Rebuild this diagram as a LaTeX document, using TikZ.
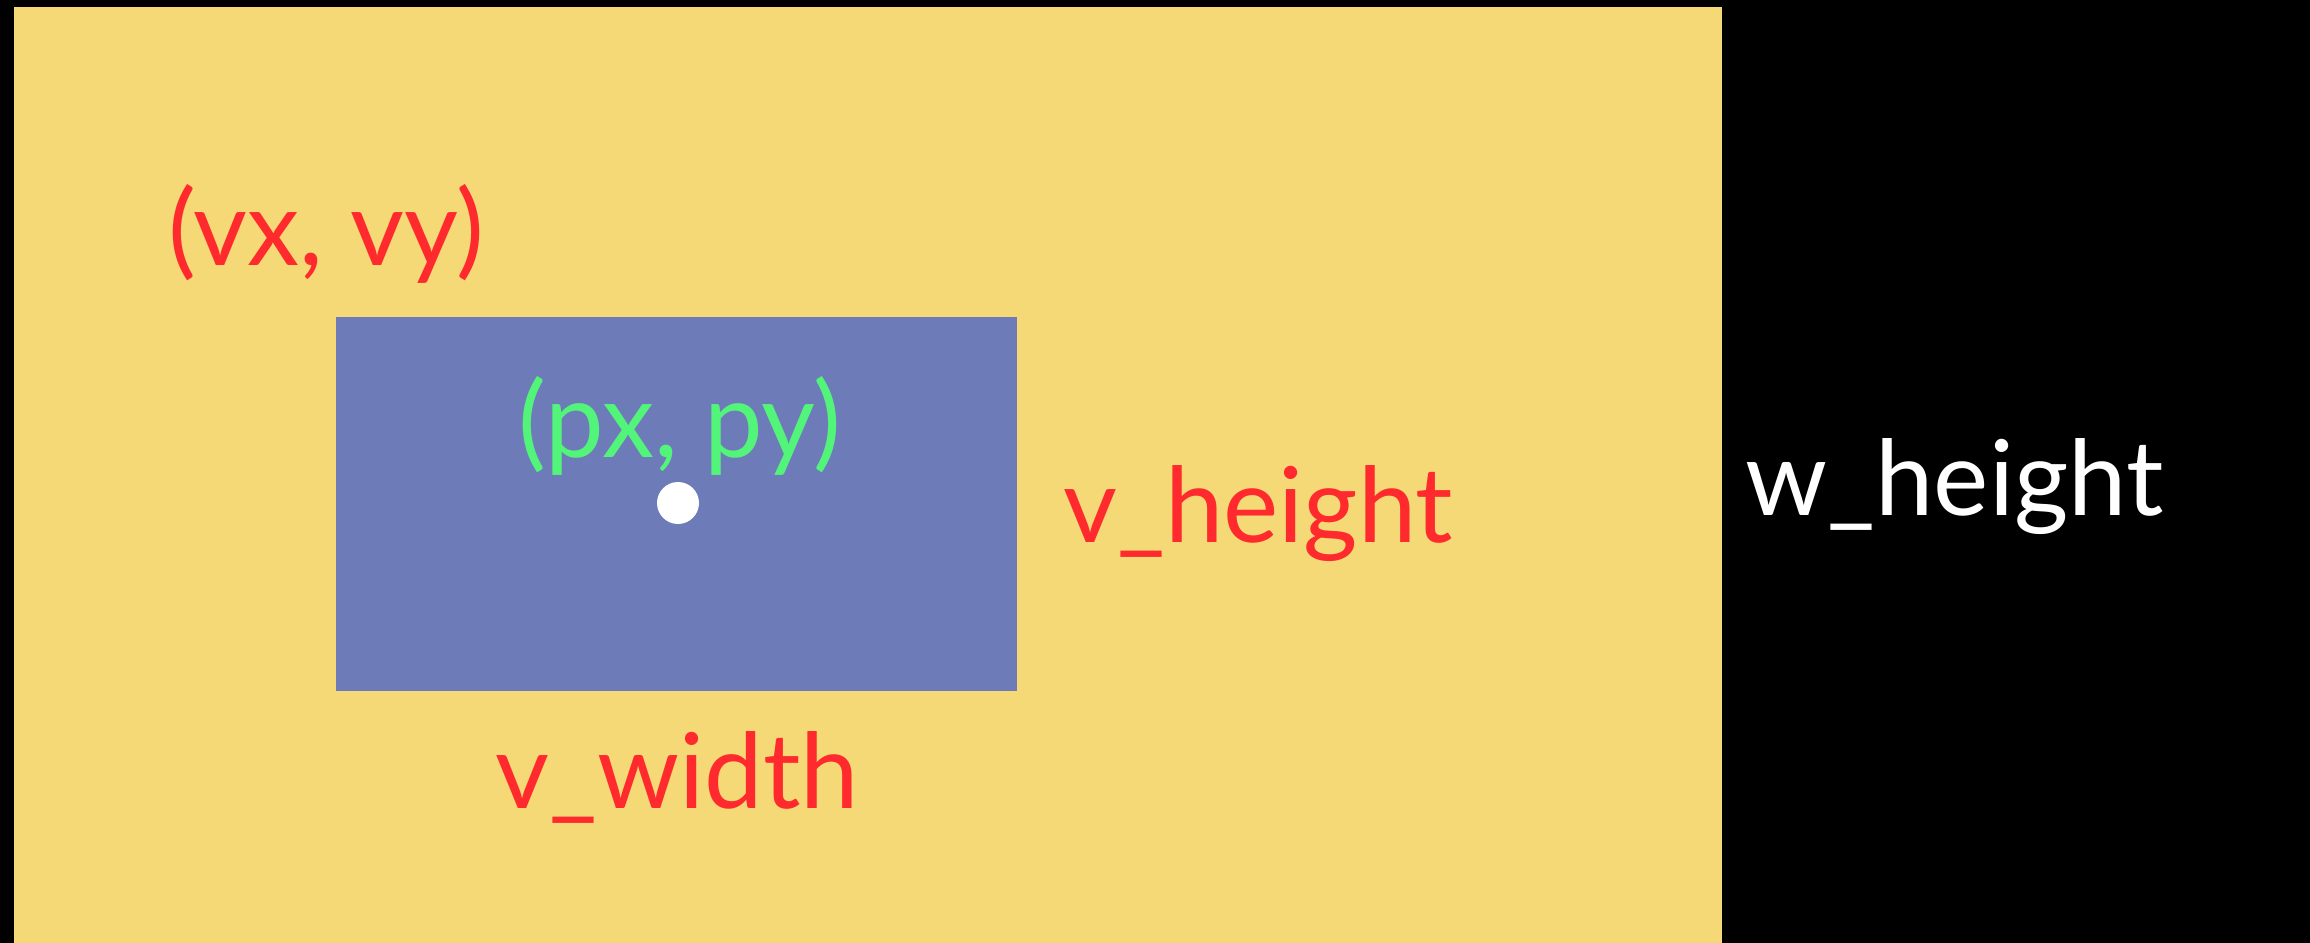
\documentclass[tikz,border=0pt]{standalone}
\usepackage{fontspec}
\setmainfont{Lato}
\definecolor{bgyellow}{HTML}{F5D976}
\definecolor{vpblue}{HTML}{6D7CB8}
\definecolor{lblred}{HTML}{FF2A2D}
\definecolor{lblgreen}{HTML}{52F57A}
\tikzset{
  lbl/.style={anchor=base west, inner sep=0pt, font=\fontsize{59.5}{62}\selectfont},
}
\begin{document}
\begin{tikzpicture}[x=0.02cm,y=-0.02cm]
\fill[black] (0,0) rectangle (2310,943);
\useasboundingbox (0,0) rectangle (2310,943);
\fill[bgyellow] (14,7) rectangle (1722,943);
\fill[vpblue] (336,317) rectangle (1017,691);
\node[lbl, text=lblred] (vxy) at (168,265) {(vx, vy)};
\node[lbl, text=lblgreen] (pxy) at (518,457) {(px, py)};
\fill[white] (678,503) circle (21);
\node[lbl, text=lblred] (vh) at (1063,542) {v\_height};
\node[lbl, text=lblred] (vw) at (495,808) {v\_width};
\node[lbl, text=white] (wh) at (1745,515) {w\_height};
\end{tikzpicture}
\end{document}
